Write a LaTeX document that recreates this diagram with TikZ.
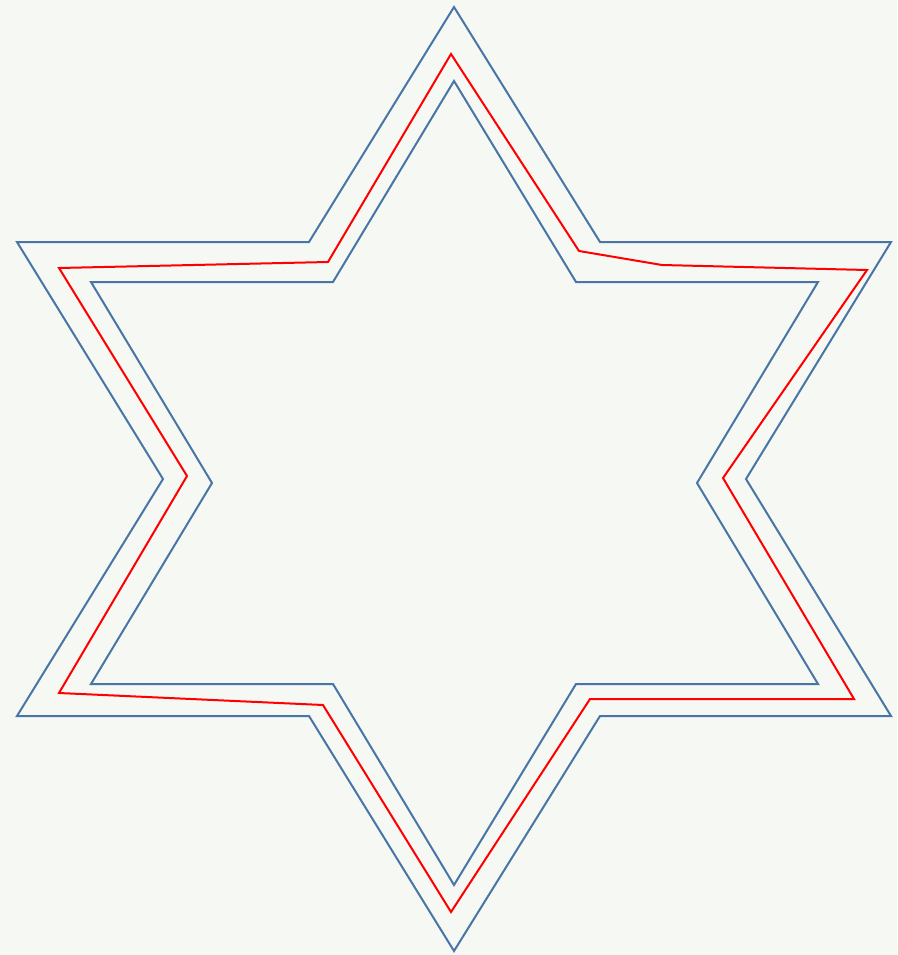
\documentclass[tikz,border=0pt]{standalone}
\usepackage{xcolor}
\usepackage{tikz}
\definecolor{bgpaper}{RGB}{246,248,244}
\definecolor{starblue}{RGB}{72,117,166}
\definecolor{tracered}{RGB}{255,0,0}
\tikzset{
  starline/.style={draw=starblue, line width=2pt, line join=miter},
  traceline/.style={draw=tracered, line width=2pt, line join=miter}
}

\begin{document}
\begin{tikzpicture}[x=1pt, y=-1pt]
  % Background
  \fill[bgpaper] (0,0) rectangle (897,955);
  \useasboundingbox (0,0) rectangle (897,955);

  % Outer star
  \draw[starline] (454,7) -- (309,242) -- (17,242) -- (163,479) -- (17,716)
    -- (309,716) -- (454,951) -- (600,716) -- (891,716) -- (746,479)
    -- (891,242) -- (600,242) -- cycle;

  % Inner star
  \draw[starline] (454,81) -- (333,282) -- (91,282) -- (212,483) -- (91,684)
    -- (333,684) -- (454,885) -- (576,684) -- (818,684) -- (697,483)
    -- (818,282) -- (576,282) -- cycle;

  % Red path between the stars
  \draw[traceline] (451,54) -- (328,262) -- (59,268) -- (187,476) -- (59,693)
    -- (323,705) -- (451,912) -- (590,699) -- (854,699) -- (723,478)
    -- (867,270) -- (662,265) -- (579,251) -- cycle;
\end{tikzpicture}
\end{document}
